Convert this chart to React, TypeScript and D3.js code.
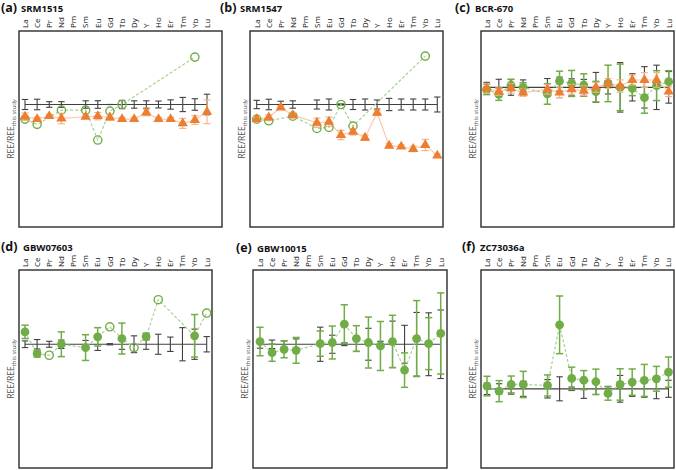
import React from "react";
import * as d3 from "d3";

const elements = ["La","Ce","Pr","Nd","Pm","Sm","Eu","Gd","Tb","Dy","Y","Ho","Er","Tm","Yb","Lu"];
const panelTags = ["(a)","(b)","(c)","(d)","(e)","(f)"];
const panelNames = ["SRM1515","SRM1547","BCR-670","GBW07603","GBW10015","ZC73036a"];
const yDomains: [number, number][] = [[0,1.6],[0,1.6],[-0.14,1.46],[0,1.6],[0,1.6],[0.36,1.96]];

// black: uncertainty of this study (centred on 1)
const blackErrA = [0.041,0.043,0.023,0.023,null,0.030,0.031,0.000,0.034,0.030,0.030,0.028,0.038,0.058,0.047,0.084];
const blackErrB = [0.034,0.043,0.027,0.030,null,0.037,0.045,0.005,0.041,0.045,0.037,0.050,0.045,0.045,0.045,0.061];
const blackErrC = [0.041,0.066,0.065,0.061,null,0.072,0.084,0.070,0.065,0.122,0.054,0.202,0.111,0.169,0.181,0.129];
const blackErrD = [0.027,0.038,0.024,0.034,null,0.031,0.050,0.005,0.041,0.068,0.041,0.081,0.058,0.134,0.122,0.062];
const blackErrE = [0.032,0.034,0.027,0.043,null,0.138,0.073,0.011,0.057,0.129,0.024,0.187,0.153,0.257,0.254,0.277];
const blackErrF = [0.046,0.041,0.043,0.061,null,0.074,0.097,0.014,0.077,0.047,0.020,0.108,0.061,0.068,0.080,0.069];

// green: reference / certified values
const greenA = [0.881,0.838,null,0.954,null,0.954,0.710,0.946,1.000,null,null,null,null,null,1.387,null];
const greenOpenA = [1,1,0,1,0,1,1,1,1,0,0,0,0,0,1,0];
const greenErrA = [null,null,null,null,null,null,null,null,null,null,null,null,null,null,null,null];
const greenB = [0.881,0.867,null,0.905,null,0.805,0.813,1.000,0.824,null,null,null,null,null,1.395,null];
const greenOpenB = [1,1,0,1,0,1,1,1,1,0,0,0,0,0,1,0];
const greenErrB = [null,null,null,null,null,null,null,null,null,null,null,null,null,null,null,null];
const greenC = [0.984,0.943,1.019,1.000,null,0.946,1.051,1.032,1.019,0.965,1.032,1.000,0.992,0.916,1.014,1.046];
const greenOpenC = [0,0,0,0,0,0,0,0,0,0,0,0,0,0,0,0];
const greenErrC = [0.043,0.049,0.046,0.038,null,0.084,0.081,0.106,0.092,0.084,0.149,0.190,0.060,0.127,0.122,0.090];
const greenD = [1.100,0.924,0.911,1.000,null,0.973,1.060,1.141,1.046,0.973,1.062,1.360,null,null,1.068,1.252];
const greenOpenD = [0,0,1,0,0,0,0,1,0,1,0,1,0,0,0,1];
const greenErrD = [0.054,0.027,null,0.100,null,0.104,0.074,null,0.125,null,0.027,null,null,null,0.172,null];
const greenE = [1.022,0.932,0.959,0.951,null,1.005,1.014,1.162,1.046,1.014,0.986,1.022,0.791,1.046,1.005,1.087];
const greenOpenE = [0,0,0,0,0,0,0,0,0,0,0,0,0,0,0,0];
const greenErrE = [0.115,0.070,0.068,0.104,null,0.102,0.133,0.157,0.104,0.206,0.198,0.212,0.139,0.307,0.210,0.328];
const greenF = [1.022,0.981,1.035,1.035,null,1.027,1.517,1.084,1.070,1.057,0.962,1.035,1.054,1.068,1.081,1.135];
const greenOpenF = [0,0,0,0,0,0,0,0,0,0,0,0,0,0,0,0];
const greenErrF = [0.079,0.085,0.068,0.106,null,0.085,0.233,0.091,0.077,0.102,0.054,0.127,0.106,0.129,0.100,0.122];

// orange: other laboratory results
const orangeA = [0.900,0.881,0.905,0.886,null,0.900,0.905,0.894,0.881,0.881,0.935,0.881,0.881,0.846,0.873,0.940];
const orangeErrA = [0.030,0.016,0.014,0.043,null,0.014,0.030,0.022,0.014,0.014,0.027,0.014,0.014,0.041,0.035,0.097];
const orangeB = [0.881,0.894,0.976,0.913,null,0.851,0.859,0.751,0.778,0.729,0.932,0.664,0.656,0.637,0.670,0.583];
const orangeErrB = [0.022,0.022,0.014,0.022,null,0.038,0.038,0.038,0.027,0.022,0.022,0.016,0.014,0.022,0.046,0.014];
const orangeC = [0.992,0.965,0.992,0.957,null,0.984,0.957,0.984,0.973,1.000,1.032,1.011,1.060,1.060,1.060,0.965];
const orangeErrC = [0.040,0.030,0.040,0.030,null,0.040,0.040,0.040,0.040,0.040,0.040,0.050,0.040,0.060,0.060,0.040];

type P = {
  black: (number | null)[];
  green: (number | null)[];
  greenOpen: number[];
  greenErr: (number | null)[];
  orange?: (number | null)[];
  orangeErr?: (number | null)[];
};

const panelData: P[] = [
  { black: blackErrA, green: greenA, greenOpen: greenOpenA, greenErr: greenErrA, orange: orangeA, orangeErr: orangeErrA },
  { black: blackErrB, green: greenB, greenOpen: greenOpenB, greenErr: greenErrB, orange: orangeB, orangeErr: orangeErrB },
  { black: blackErrC, green: greenC, greenOpen: greenOpenC, greenErr: greenErrC, orange: orangeC, orangeErr: orangeErrC },
  { black: blackErrD, green: greenD, greenOpen: greenOpenD, greenErr: greenErrD },
  { black: blackErrE, green: greenE, greenOpen: greenOpenE, greenErr: greenErrE },
  { black: blackErrF, green: greenF, greenOpen: greenOpenF, greenErr: greenErrF },
];

// layout (pixels)
const layout = [
  { fx0: 19, fx1: 222, fy0: 31, fy1: 227, px0: 25, px1: 207, tx: 1, nx: 21, ty: 12 },
  { fx0: 250, fx1: 443, fy0: 31, fy1: 227, px0: 256.7, px1: 437.3, tx: 220, nx: 240, ty: 12 },
  { fx0: 481, fx1: 674, fy0: 31, fy1: 227, px0: 486.7, px1: 668.7, tx: 455, nx: 475, ty: 12 },
  { fx0: 19, fx1: 212, fy0: 270, fy1: 468, px0: 25, px1: 206.7, tx: 1, nx: 23, ty: 251 },
  { fx0: 253, fx1: 447, fy0: 270, fy1: 468, px0: 260, px1: 440.7, tx: 236, nx: 257, ty: 252 },
  { fx0: 481, fx1: 674, fy0: 270, fy1: 468, px0: 487, px1: 668.5, tx: 462, nx: 480, ty: 251 },
];

const GREEN = "#70AD47";
const GREEN_LINE = "#A9D18E";
const ORANGE = "#ED7D31";
const ORANGE_LINE = "#F8CBAD";
const ORANGE_BAR = "#F4B183";
const BLACK = "#404040";
const FONT = "'Open Sans', 'Liberation Sans', sans-serif";

function ErrBar({ x, y0, y1, color, w, cap }: { x: number; y0: number; y1: number; color: string; w: number; cap: number }) {
  return (
    <g stroke={color} strokeWidth={w} fill="none">
      <line x1={x} x2={x} y1={y0} y2={y1} />
      <line x1={x - cap} x2={x + cap} y1={y0} y2={y0} />
      <line x1={x - cap} x2={x + cap} y1={y1} y2={y1} />
    </g>
  );
}

function Panel({ i }: { i: number }) {
  const L = layout[i];
  const D = panelData[i];
  const x = d3.scalePoint<string>().domain(elements).range([L.px0, L.px1]);
  const y = d3.scaleLinear().domain(yDomains[i]).range([L.fy1, L.fy0]);
  const tri = d3.symbol().type(d3.symbolTriangle).size(46)();

  const greenPts = elements
    .map((e, j) => ({ e, v: D.green[j] }))
    .filter((p) => p.v != null) as { e: string; v: number }[];
  const orangePts = D.orange
    ? (elements.map((e, j) => ({ e, v: D.orange![j] })).filter((p) => p.v != null) as { e: string; v: number }[])
    : [];
  const line = d3
    .line<{ e: string; v: number }>()
    .x((p) => x(p.e)!)
    .y((p) => y(p.v));

  const midY = (L.fy0 + L.fy1) / 2;
  const labX = L.fx0 - 5;

  return (
    <g>
      <text x={L.tx} y={L.ty} fontFamily={FONT} fontWeight={700} fontSize={12.5} fill="#111">
        {panelTags[i]}
      </text>
      <text x={L.nx} y={L.ty} fontFamily={FONT} fontWeight={700} fontSize={9.5} fill="#111">
        {panelNames[i]}
      </text>
      {elements.map((e) => (
        <text
          key={e}
          transform={`translate(${x(e)},${L.fy0 - 3}) rotate(-90)`}
          dy="0.35em"
          textAnchor="start"
          fontFamily={FONT}
          fontSize={8}
          fill="#111"
        >
          {e}
        </text>
      ))}
      <text
        transform={`translate(${labX},${midY}) rotate(-90)`}
        textAnchor="middle"
        fontFamily={FONT}
        fontSize={8.5}
        fill="#555"
      >
        REE/REE
        <tspan fontSize={6} dy={2}>this study</tspan>
      </text>
      <rect x={L.fx0} y={L.fy0} width={L.fx1 - L.fx0} height={L.fy1 - L.fy0} fill="white" stroke="#2b2b2b" strokeWidth={1.4} />
      <line x1={L.px0} x2={L.px1} y1={y(1)} y2={y(1)} stroke={BLACK} strokeWidth={1.2} />
      {elements.map((e, j) =>
        D.black[j] == null ? null : (
          <ErrBar key={"b" + e} x={x(e)!} y0={y(1 + D.black[j]!)} y1={y(1 - D.black[j]!)} color={BLACK} w={1.1} cap={3.2} />
        )
      )}
      {orangePts.length > 0 && (
        <path d={line(orangePts)!} fill="none" stroke={ORANGE_LINE} strokeWidth={1.2} />
      )}
      <path d={line(greenPts)!} fill="none" stroke={GREEN_LINE} strokeWidth={1.2} strokeDasharray="3,2" />
      {elements.map((e, j) =>
        D.green[j] == null || D.greenErr[j] == null ? null : (
          <ErrBar key={"ge" + e} x={x(e)!} y0={y(D.green[j]! + D.greenErr[j]!)} y1={y(D.green[j]! - D.greenErr[j]!)} color={GREEN} w={1.5} cap={3.6} />
        )
      )}
      {elements.map((e, j) =>
        D.green[j] == null ? null : D.greenOpen[j] ? (
          <circle key={"g" + e} cx={x(e)} cy={y(D.green[j]!)} r={4.1} fill="none" stroke={GREEN} strokeWidth={1.4} />
        ) : (
          <circle key={"g" + e} cx={x(e)} cy={y(D.green[j]!)} r={4.4} fill={GREEN} />
        )
      )}
      {D.orange &&
        elements.map((e, j) =>
          D.orange![j] == null ? null : (
            <ErrBar key={"oe" + e} x={x(e)!} y0={y(D.orange![j]! + D.orangeErr![j]!)} y1={y(D.orange![j]! - D.orangeErr![j]!)} color={ORANGE_BAR} w={1.1} cap={3.6} />
          )
        )}
      {D.orange &&
        elements.map((e, j) =>
          D.orange![j] == null ? null : (
            <path key={"o" + e} d={tri!} transform={`translate(${x(e)},${y(D.orange![j]!)})`} fill={ORANGE} />
          )
        )}
    </g>
  );
}

export default function App() {
  return (
    <svg width={676} height={470} style={{ position: "absolute", left: 0, top: 0, background: "white" }}>
      <rect width={676} height={470} fill="white" />
      {layout.map((_, i) => (
        <Panel key={i} i={i} />
      ))}
    </svg>
  );
}
